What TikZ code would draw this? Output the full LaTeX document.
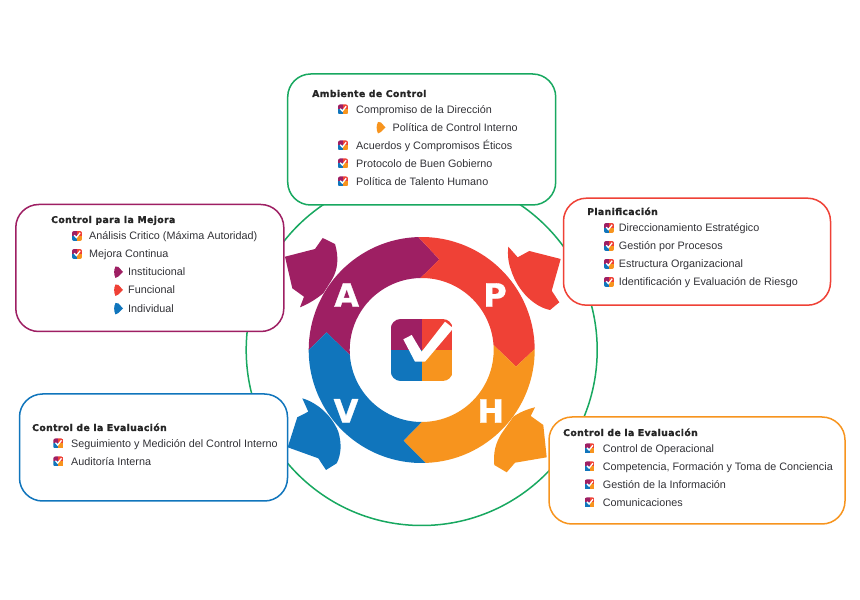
\documentclass[tikz,border=0pt]{standalone}
\usepackage{fontspec}
\setmainfont{Liberation Sans}
\newfontfamily\headfont[LetterSpace=4,BoldFeatures={FakeBold=1.2}]{DejaVu Sans}
\newfontfamily\letterfont[BoldFeatures={FakeBold=1}]{DejaVu Sans}
\usetikzlibrary{calc}
\definecolor{cA}{RGB}{158,31,99}
\definecolor{cP}{RGB}{239,65,54}
\definecolor{cH}{RGB}{247,148,30}
\definecolor{cV}{RGB}{16,117,188}
\definecolor{cG}{RGB}{24,168,96}
\definecolor{txt}{RGB}{50,50,55}
\tikzset{
  pics/tick/.style={code={
    \begin{scope}
      \clip[rounded corners=10pt] (-31,-31) rectangle (31,31);
      \fill[cA] (-31,0) rectangle (0,31);
      \fill[cP] (0,0) rectangle (31,31);
      \fill[cV] (-31,-31) rectangle (0,0);
      \fill[cH] (0,-31) rectangle (31,0);
    \end{scope}
    \fill[white] (-18.4,10.7) -- (-10,15) -- (0,-1.7) -- (23.3,28.3) -- (31.6,21.7) -- (3.3,-11.7) -- (-6.7,-11.7) -- cycle;
  }},
  pics/minitick/.style={code={
    \begin{scope}
      \clip[rounded corners=2pt] (-5,-5) rectangle (5,5);
      \fill[cA] (-5,0) rectangle (0,5);
      \fill[cP] (0,0) rectangle (5,5);
      \fill[cV] (-5,-5) rectangle (0,0);
      \fill[cH] (0,-5) rectangle (5,0);
    \end{scope}
    \draw[white, line width=1.3pt] (-2.8,0.8) -- (-0.6,-1.6) -- (3.2,3.2);
  }},
  pics/flagmark/.style={code={
    \fill[#1] (-3,5.5) -- (0,5) -- (4.5,0) -- (0,-4.5) -- (-3,-6) .. controls (-4.8,-2) and (-4.8,2) .. (-3,5.5) -- cycle;
  }}
}
\begin{document}
\begin{tikzpicture}[x=1pt,y=1pt,
  box/.style={draw=#1, fill=white, line width=1.5pt, rounded corners=23pt, inner sep=0pt},
  head/.style={anchor=base west, inner sep=0pt, font=\headfont\bfseries\fontsize{9.3}{11}\selectfont, text=black!85},
  item/.style={anchor=base west, inner sep=0pt, font=\fontsize{10.8}{13}\selectfont, text=txt},
  letter/.style={inner sep=0pt, font=\letterfont\bfseries\fontsize{32}{34}\selectfont, text=white}
]
\path[use as bounding box, fill=white] (0,0) rectangle (860,600);
\coordinate (c) at (421.7,250);
% big circle behind the boxes
\draw[cG, line width=1.5pt] (c) circle (175.5);
% boxes
\node[box=cG, minimum width=268pt, minimum height=131pt] (ambiente) at (421.7,460.5) {};
\node[box=cA, minimum width=268pt, minimum height=127pt] (mejora) at (149.8,332) {};
\node[box=cP, minimum width=267pt, minimum height=107pt] (plan) at (697,348.3) {};
\node[box=cV, minimum width=268pt, minimum height=107pt] (evalua) at (153.5,152.5) {};
\node[box=cH, minimum width=296pt, minimum height=107pt] (opera) at (697,129.5) {};
% ring segments
\fill[cA] ($(c)+(180:113)$) arc[start angle=180,end angle=91.7,radius=113] -- ($(c)+(79:92.3)$) -- ($(c)+(91:72)$) arc[start angle=91,end angle=184,radius=72] -- ($(c)+(169.5:96.7)$) -- cycle;
\fill[cP] ($(c)+(91.7:113)$) arc[start angle=91.7,end angle=0.5,radius=113] -- ($(c)+(-10:95.8)$) -- ($(c)+(4:72)$) arc[start angle=4,end angle=91,radius=72] -- ($(c)+(79:92.3)$) -- cycle;
\fill[cH] ($(c)+(0.5:113)$) arc[start angle=0.5,end angle=-88,radius=113] -- ($(c)+(-101.4:92.5)$) -- ($(c)+(-90:72)$) arc[start angle=-90,end angle=4,radius=72] -- ($(c)+(-10:95.8)$) -- cycle;
\fill[cV] ($(c)+(-88:113)$) arc[start angle=-88,end angle=-180,radius=113] -- ($(c)+(169.5:96.7)$) -- ($(c)+(184:72)$) arc[start angle=184,end angle=270,radius=72] -- ($(c)+(-101.4:92.5)$) -- cycle;
% leaves
\fill[cA] (285,343.3) -- (315,351) -- (322.7,362) -- (335,356) .. controls (339,343) and (338,330) .. (331.7,320) -- (323.3,306.7) .. controls (315,300) and (308,296) .. (300,292.7) -- (304,303.3) -- (292.3,311.7) -- cycle;
\fill[cP] (508.3,353.3) -- (517.7,342.7) -- (529.3,349) -- (560.7,341) -- (551.7,309.3) -- (559.3,297.7) -- (550,290) .. controls (535,293) and (518,308) .. (511,330) .. controls (508,338) and (507.5,346) .. (508.3,353.3) -- cycle;
\fill[cV] (302.3,201.7) .. controls (318,197) and (332,184) .. (338.3,168.3) .. controls (342,156) and (341,145) .. (336.7,136.7) -- (326,130) -- (318.3,141.7) -- (287.7,152.7) -- (297.3,182.7) -- (308.3,188.3) -- cycle;
\fill[cH] (535,192.7) -- (530.7,184) -- (543.3,175) -- (546.7,142.7) -- (515,137.3) -- (506.7,127.7) -- (494.3,135) .. controls (493,148) and (496,158) .. (501.7,166.7) -- (513.3,183.3) .. controls (520,188) and (528,191) .. (535,192.7) -- cycle;
% letters and logo
\node[letter] (lA) at (346.7,305) {A};
\node[letter] (lP) at (495,305) {P};
\node[letter] (lV) at (346,189.3) {V};
\node[letter] (lH) at (490.7,189) {H};
\pic at (c) {tick};
% Ambiente de Control
\node[head] (h1) at (312,503) {Ambiente de Control};
\pic at (343,490.5) {minitick};
\node[item] (a1) at (356,486.5) {Compromiso de la Dirección};
\pic at (381,472.5) {flagmark=cH};
\node[item] (a2) at (392.5,468.5) {Política de Control Interno};
\pic at (343,454.5) {minitick};
\node[item] (a3) at (356,450.5) {Acuerdos y Compromisos Éticos};
\pic at (343,436.5) {minitick};
\node[item] (a4) at (356,432.5) {Protocolo de Buen Gobierno};
\pic at (343,418.5) {minitick};
\node[item] (a5) at (356,414.5) {Política de Talento Humano};
% Control para la Mejora
\node[head] (h2) at (51,377) {Control para la Mejora};
\pic at (77,364) {minitick};
\node[item] (m1) at (89,360) {Análisis Critico (Máxima Autoridad)};
\pic at (77,346) {minitick};
\node[item] (m2) at (89,342) {Mejora Continua};
\pic at (118.5,328) {flagmark=cA};
\node[item] (m3) at (128,324) {Institucional};
\pic at (118.5,310) {flagmark=cP};
\node[item] (m4) at (128,306) {Funcional};
\pic at (118.5,291.5) {flagmark=cV};
\node[item] (m5) at (128,287.5) {Individual};
% Planificacion
\node[head] (h3) at (587,385) {Planificación};
\pic at (609,372) {minitick};
\node[item] (p1) at (618.7,368) {Direccionamiento Estratégico};
\pic at (609,354) {minitick};
\node[item] (p2) at (618.7,350) {Gestión por Procesos};
\pic at (609,336) {minitick};
\node[item] (p3) at (618.7,332) {Estructura Organizacional};
\pic at (609,318) {minitick};
\node[item] (p4) at (618.7,314) {Identificación y Evaluación de Riesgo};
% Control de la Evaluacion, left
\node[head] (h4) at (32,169) {Control de la Evaluación};
\pic at (58.3,156.5) {minitick};
\node[item] (v1) at (71,152.5) {Seguimiento y Medición del Control Interno};
\pic at (58.3,138.5) {minitick};
\node[item] (v2) at (71,134.5) {Auditoría Interna};
% Control de la Evaluacion, right
\node[head] (h5) at (563,164) {Control de la Evaluación};
\pic at (589.7,151.5) {minitick};
\node[item] (o1) at (602.7,147.7) {Control de Operacional};
\pic at (589.7,133.5) {minitick};
\node[item] (o2) at (602.7,129.5) {Competencia, Formación y Toma de Conciencia};
\pic at (589.7,115.5) {minitick};
\node[item] (o3) at (602.7,111.5) {Gestión de la Información};
\pic at (589.7,97.5) {minitick};
\node[item] (o4) at (602.7,93.5) {Comunicaciones};
\end{tikzpicture}
\end{document}
